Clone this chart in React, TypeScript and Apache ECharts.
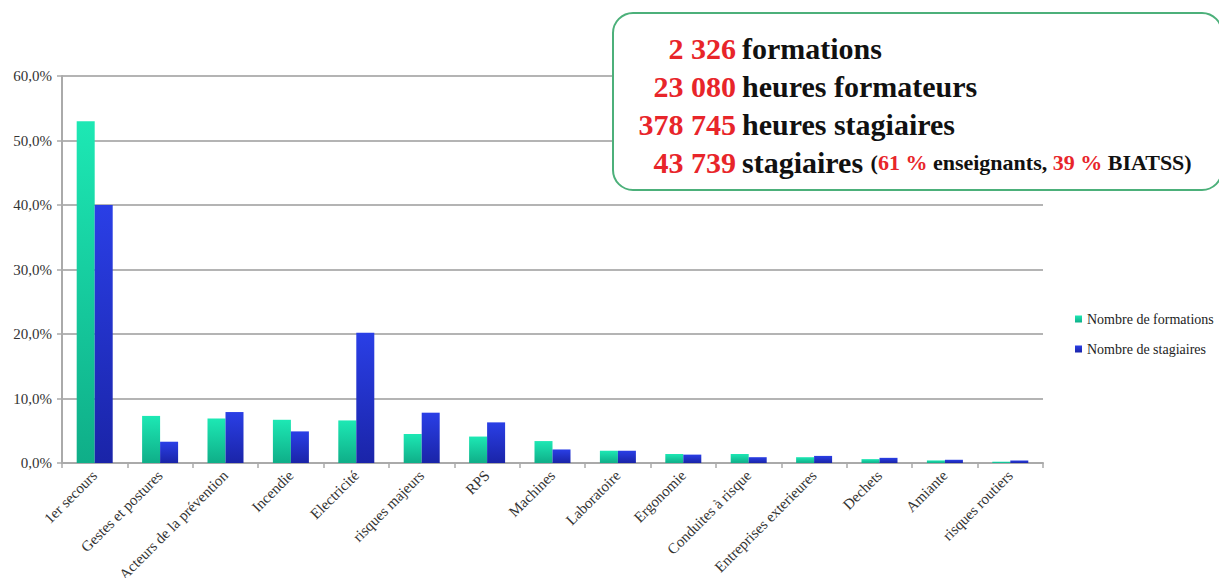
import React, { useEffect, useRef } from "react";
import * as echarts from "echarts";

const categories = [
  "1er secours", "Gestes et postures", "Acteurs de la prévention", "Incendie", "Electricité",
  "risques majeurs", "RPS", "Machines", "Laboratoire", "Ergonomie", "Conduites à risque",
  "Entreprises exterieures", "Dechets", "Amiante", "risques routiers",
];
const formations = [53.0, 7.3, 6.9, 6.7, 6.6, 4.5, 4.1, 3.4, 1.9, 1.4, 1.4, 0.9, 0.6, 0.4, 0.2];
const stagiaires = [40.0, 3.3, 7.9, 4.9, 20.2, 7.8, 6.3, 2.1, 1.9, 1.3, 0.9, 1.1, 0.8, 0.5, 0.4];
const yTicks = [0, 10, 20, 30, 40, 50, 60];
const seriesNames = ["Nombre de formations", "Nombre de stagiaires"];
const statNumbers = ["2 326", "23 080", "378 745", "43 739"];
const statLabels = ["formations", "heures formateurs", "heures stagiaires", "stagiaires"];

const SERIF = "Times New Roman, Liberation Serif, serif";

export default function App() {
  const ref = useRef<HTMLDivElement>(null);
  useEffect(() => {
    if (!ref.current) return;
    const chart = echarts.init(ref.current, undefined, { renderer: "svg" });
    const green = new echarts.graphic.LinearGradient(0, 0, 0, 1, [
      { offset: 0, color: "#1de8b4" },
      { offset: 1, color: "#0fae88" },
    ]);
    const blue = new echarts.graphic.LinearGradient(0, 0, 0, 1, [
      { offset: 0, color: "#2a3fe6" },
      { offset: 1, color: "#1a24a8" },
    ]);
    const lineYs = [48, 86, 124, 162];
    const big = { fontFamily: SERIF, fontWeight: "bold", fontSize: 30 };
    const graphics: any[] = [
      {
        type: "rect",
        shape: { x: 613, y: 13, width: 609, height: 177, r: 20 },
        style: { fill: "#ffffff", stroke: "#4cb07a", lineWidth: 2 },
        z: 100,
      },
    ];
    statNumbers.forEach((n, i) => {
      graphics.push({
        type: "text",
        x: 736,
        y: lineYs[i],
        z: 101,
        style: {
          text: n,
          fill: "#e8252a",
          ...big,
          align: "right",
          verticalAlign: "middle",
        },
      });
      if (i < 3) {
        graphics.push({
          type: "text",
          x: 742,
          y: lineYs[i],
          z: 101,
          style: {
            text: statLabels[i],
            fill: "#111111",
            ...big,
            align: "left",
            verticalAlign: "middle",
          },
        });
      } else {
        graphics.push({
          type: "text",
          x: 742,
          y: lineYs[i],
          z: 101,
          style: {
            text: `{b|${statLabels[i]} }{s|(}{r|61 %}{s| enseignants, }{r|39 %}{s| BIATSS)}`,
            align: "left",
            verticalAlign: "middle",
            rich: {
              b: { ...big, fill: "#111111" },
              s: { fontFamily: SERIF, fontWeight: "bold", fontSize: 22, fill: "#111111" },
              r: { fontFamily: SERIF, fontWeight: "bold", fontSize: 22, fill: "#e8252a" },
            },
          },
        });
      }
    });

    chart.setOption({
      animation: false,
      backgroundColor: "#ffffff",
      textStyle: { fontFamily: SERIF },
      grid: { left: 62, right: 184, top: 76, bottom: 123, containLabel: false },
      legend: {
        orient: "vertical",
        left: 1070,
        top: 307,
        itemWidth: 7,
        itemHeight: 7,
        itemGap: 16,
        icon: "rect",
        textStyle: { fontFamily: SERIF, fontSize: 14, color: "#222" },
        data: seriesNames,
      },
      xAxis: {
        type: "category",
        data: categories,
        axisLine: { lineStyle: { color: "#aaaaaa", width: 2 } },
        axisTick: { show: true, length: 5, lineStyle: { color: "#aaaaaa", width: 1.5 } },
        axisLabel: {
          rotate: 45,
          interval: 0,
          fontFamily: SERIF,
          fontSize: 15,
          color: "#333",
          margin: 10,
        },
      },
      yAxis: {
        type: "value",
        min: 0,
        max: 60,
        interval: 10,
        axisLine: { show: true, lineStyle: { color: "#aaaaaa", width: 2 } },
        axisTick: { show: true, length: 5, lineStyle: { color: "#aaaaaa", width: 1.5 } },
        splitLine: { lineStyle: { color: "#b4b4b4", width: 2 } },
        axisLabel: {
          fontFamily: SERIF,
          fontSize: 15,
          color: "#333",
          margin: 10,
          formatter: (v: number) => (yTicks.includes(v) ? v.toFixed(1).replace(".", ",") + "%" : ""),
        },
      },
      series: [
        {
          name: seriesNames[0],
          type: "bar",
          data: formations,
          barWidth: 18,
          barGap: "0%",
          itemStyle: { color: green },
        },
        {
          name: seriesNames[1],
          type: "bar",
          data: stagiaires,
          barWidth: 18,
          barGap: "0%",
          itemStyle: { color: blue },
        },
      ],
      graphic: graphics,
    });
    return () => chart.dispose();
  }, []);
  return <div ref={ref} style={{ width: 1227, height: 586, margin: -8 }} />;
}
